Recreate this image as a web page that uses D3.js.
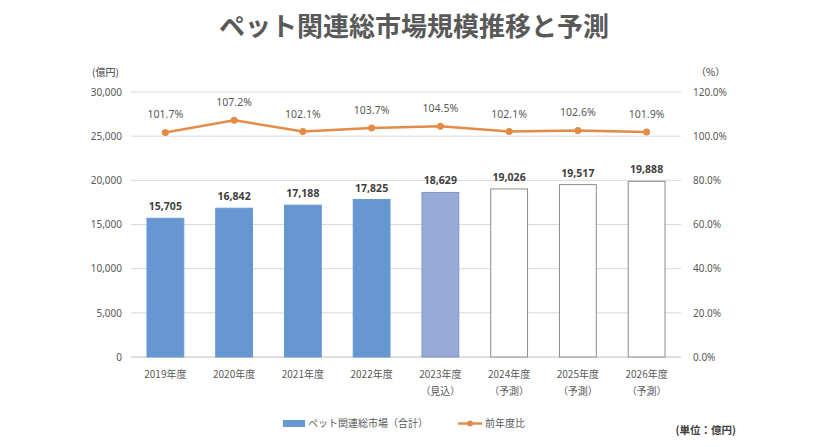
<!DOCTYPE html>
<html>
<head>
<meta charset="utf-8">
<script src="https://cdn.jsdelivr.net/npm/d3@7"></script>
<style>
  body { margin: 0; background: #fff; }
  text { font-family: "Noto Sans CJK JP", "Noto Sans", sans-serif; }
</style>
</head>
<body>
<svg id="chart" width="828" height="447"></svg>
<script>
// data
var years = ['2019年度', '2020年度', '2021年度', '2022年度', '2023年度', '2024年度', '2025年度', '2026年度'];
var subLabels = ['', '', '', '', '（見込）', '（予測）', '（予測）', '（予測）'];
var marketValues = [15705, 16842, 17188, 17825, 18629, 19026, 19517, 19888];
var growthRates = [101.7, 107.2, 102.1, 103.7, 104.5, 102.1, 102.6, 101.9];
var kinds = ['actual', 'actual', 'actual', 'actual', 'estimate', 'forecast', 'forecast', 'forecast'];
var leftTicks = [0, 5000, 10000, 15000, 20000, 25000, 30000];
var rightTicks = [0, 20, 40, 60, 80, 100, 120];

var svg = d3.select('#chart');
var margin = {left: 131, right: 147, top: 92, bottom: 90};
var W = 828, H = 447;

var x = d3.scaleBand().domain(years).range([margin.left, W - margin.right]).paddingInner(0.45).paddingOuter(0.225);
var yL = d3.scaleLinear().domain([0, 30000]).range([H - margin.bottom, margin.top]);
var yR = d3.scaleLinear().domain([0, 120]).range([H - margin.bottom, margin.top]);

var fillFor = {actual: '#6797d0', estimate: '#97aada', forecast: '#ffffff'};
var strokeFor = {actual: '#6797d0', estimate: '#7f96c8', forecast: '#8c8c8c'};

// title
svg.append('text')
	.attr('x', 414).attr('y', 36)
	.attr('text-anchor', 'middle')
	.attr('font-size', 26).attr('font-weight', 'bold')
	.attr('fill', '#595959')
	.text('ペット関連総市場規模推移と予測');

// grid
svg.append('g').selectAll('line')
	.data(leftTicks)
	.enter().append('line')
	.attr('x1', margin.left).attr('x2', W - margin.right)
	.attr('y1', d => yL(d)).attr('y2', d => yL(d))
	.attr('stroke', d => d === 0 ? '#bfbfbf' : '#d9d9d9')
	.attr('stroke-width', 1);

// left axis
var axL = svg.append('g')
	.attr('transform', 'translate(' + margin.left + ',0)')
	.call(d3.axisLeft(yL).tickValues(leftTicks).tickSize(0).tickPadding(9).tickFormat(d3.format(',')));
axL.select('.domain').remove();
axL.selectAll('text').attr('font-size', 10).attr('fill', '#595959').style('font-family', '"Noto Sans", sans-serif');

// right axis
var axR = svg.append('g')
	.attr('transform', 'translate(' + (W - margin.right) + ',0)')
	.call(d3.axisRight(yR).tickValues(rightTicks).tickSize(0).tickPadding(12).tickFormat(d => d.toFixed(1) + '%'));
axR.select('.domain').remove();
axR.selectAll('text').attr('font-size', 10).attr('fill', '#595959').style('font-family', '"Noto Sans", sans-serif');

svg.append('text').attr('x', 92).attr('y', 76).attr('font-size', 10).attr('fill', '#404040').text('(億円)');
svg.append('text').attr('x', 696).attr('y', 76).attr('font-size', 10).attr('fill', '#404040').text('（%）');

// bars
svg.append('g').selectAll('rect')
	.data(years)
	.enter().append('rect')
	.attr('x', d => x(d) + 0.5)
	.attr('y', (d, i) => yL(marketValues[i]))
	.attr('width', x.bandwidth() - 1)
	.attr('height', (d, i) => yL(0) - yL(marketValues[i]))
	.attr('fill', (d, i) => fillFor[kinds[i]])
	.attr('stroke', (d, i) => strokeFor[kinds[i]])
	.attr('stroke-width', 1);

svg.append('g').selectAll('text')
	.data(years)
	.enter().append('text')
	.attr('x', d => x(d) + x.bandwidth() / 2)
	.attr('y', (d, i) => yL(marketValues[i]) - 8)
	.attr('text-anchor', 'middle')
	.attr('font-size', 10.5).attr('font-weight', 'bold')
	.attr('fill', '#404040')
	.style('font-family', '"Noto Sans", sans-serif')
	.text((d, i) => d3.format(',')(marketValues[i]));

// line
var line = d3.line()
	.x((d, i) => x(years[i]) + x.bandwidth() / 2)
	.y(d => yR(d));

svg.append('path')
	.datum(growthRates)
	.attr('d', line)
	.attr('fill', 'none')
	.attr('stroke', '#e38c47')
	.attr('stroke-width', 2.5);

svg.append('g').selectAll('circle')
	.data(growthRates)
	.enter().append('circle')
	.attr('cx', (d, i) => x(years[i]) + x.bandwidth() / 2)
	.attr('cy', d => yR(d))
	.attr('r', 3.5)
	.attr('fill', '#e38c47');

svg.append('g').selectAll('text')
	.data(growthRates)
	.enter().append('text')
	.attr('x', (d, i) => x(years[i]) + x.bandwidth() / 2)
	.attr('y', d => yR(d) - 14)
	.attr('text-anchor', 'middle')
	.attr('font-size', 10.5)
	.attr('fill', '#595959')
	.style('font-family', '"Noto Sans", sans-serif')
	.text(d => d.toFixed(1) + '%');

// category labels
var xl = svg.append('g').selectAll('g')
	.data(years)
	.enter().append('g');
xl.append('text')
	.attr('x', d => x(d) + x.bandwidth() / 2)
	.attr('y', 378)
	.attr('text-anchor', 'middle')
	.attr('font-size', 10).attr('fill', '#595959')
	.text(d => d);
xl.append('text')
	.attr('x', d => x(d) + x.bandwidth() / 2)
	.attr('y', 395)
	.attr('text-anchor', 'middle')
	.attr('font-size', 10).attr('fill', '#595959')
	.text((d, i) => subLabels[i]);

// legend
var lg = svg.append('g');
lg.append('rect').attr('x', 283).attr('y', 420).attr('width', 22).attr('height', 7).attr('fill', '#6797d0');
lg.append('text').attr('x', 308).attr('y', 427).attr('font-size', 10).attr('fill', '#595959').text('ペット関連総市場（合計）');
lg.append('line').attr('x1', 458).attr('x2', 482).attr('y1', 423.5).attr('y2', 423.5).attr('stroke', '#e38c47').attr('stroke-width', 2.5);
lg.append('circle').attr('cx', 470).attr('cy', 423.5).attr('r', 3).attr('fill', '#e38c47');
lg.append('text').attr('x', 485).attr('y', 427).attr('font-size', 10).attr('fill', '#595959').text('前年度比');

svg.append('text').attr('x', 736).attr('y', 434).attr('text-anchor', 'end')
	.attr('font-size', 10.5).attr('font-weight', 'bold').attr('fill', '#404040').text('(単位：億円)');
</script>
</body>
</html>
